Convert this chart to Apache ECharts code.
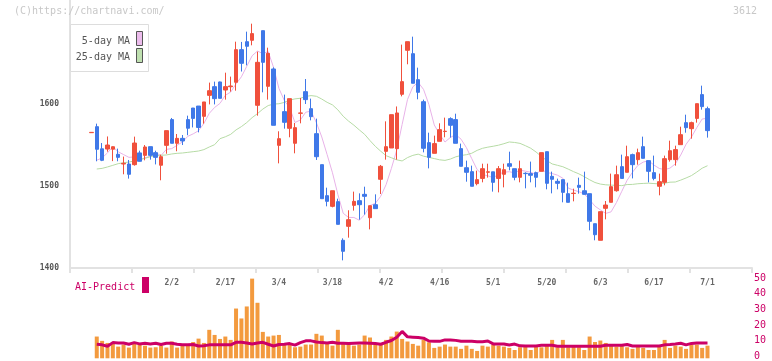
<!DOCTYPE html>
<html>
<head>
<meta charset="utf-8">
<script src="https://cdn.jsdelivr.net/npm/echarts@6/dist/echarts.min.js"></script>
<style>
html, body { margin: 0; padding: 0; background: #fff; }
#main { width: 772px; height: 361px; }
</style>
</head>
<body>
<div id="main"></div>
<script>
// 日足 (i=0..115)  O / H / L / C
var opens = [1564.6,1571.9,1545,1544.7,1544.5,1538.3,1526.5,1526.5,1525.7,1540,
    1537,1547.6,1540.3,1525,1549.2,1580.5,1551.7,1557.7,1580.5,1594.6,
    1597,1584.5,1610,1620.6,1626.3,1616.5,1620.5,1625.9,1665.6,1675.3,
    1677,1597.9,1688.7,1621,1642.1,1549.2,1590.2,1569.9,1551.7,1588.2,
    1614.5,1593.8,1563.4,1525.7,1488,1475,1480.7,1433.7,1450.7,1476.2,
    1481.9,1489.6,1461.2,1477,1507.9,1541.9,1546,1545.2,1611.3,1664.8,
    1660.7,1629.1,1602.3,1552.5,1539.5,1554.1,1566,1581.7,1580.5,1545.2,
    1522,1517.2,1502.6,1509,1516.5,1517,1509,1514,1526.9,1520.8,
    1510.3,1515.2,1514.8,1516,1517.6,1541.5,1511.5,1505.4,1507.5,1490.4,
    1490.6,1500.6,1494,1490.4,1453.9,1433.7,1472.6,1479.9,1494,1523.3,
    1516.4,1537.9,1531.8,1547.6,1530.6,1516,1499.4,1504.2,1531.8,1531.8,
    1550,1576.8,1569.5,1582,1610.9,1593.8];
var highs = [1565,1575.6,1552,1560,1548,1545.2,1535.5,1531.4,1559.8,1542.7,
    1549.6,1547.6,1542.7,1537.9,1567.1,1582.5,1563,1561.8,1585.3,1594.6,
    1597,1602,1625.5,1626.7,1626.7,1637.6,1632.8,1675.3,1675,1687.5,
    1697.2,1663.2,1688.7,1668,1644.1,1566.3,1610.9,1606,1576.4,1606.8,
    1629.9,1606,1581.7,1525.7,1497.7,1494,1484.3,1436.1,1470.2,1492.9,
    1490.8,1498.9,1475.8,1489.6,1525.3,1578.4,1586.5,1596.5,1671.7,1675.3,
    1681.4,1643.7,1604.8,1564.6,1561,1576,1582.9,1583.3,1587.7,1551.3,
    1530.6,1524.5,1518.4,1526.9,1526.9,1517,1524,1526.9,1541.5,1520.8,
    1530.6,1516.4,1529.4,1517.2,1540.3,1541.5,1517.2,1508.7,1507.5,1503.8,
    1496.5,1509.9,1517.2,1490.4,1453.9,1468.5,1481.5,1514.8,1524.5,1537.9,
    1548.8,1539.1,1545.2,1559.8,1530.6,1536.7,1514.8,1536.7,1554.9,1548.8,
    1571.9,1586.5,1578,1599.9,1621.8,1596.3];
var lows = [1564.6,1529.8,1530,1541.5,1530,1529.8,1514,1508.7,1524.5,1529.5,
    1531,1531.8,1526,1506.7,1539,1551.7,1542,1549.6,1561.5,1571,
    1565,1575.6,1599,1599,1606.4,1604.8,1614.5,1615.7,1639,1646.5,
    1670.9,1585.3,1613.7,1604.8,1573.6,1527.3,1569.5,1559,1539.5,1576,
    1599.5,1579.6,1531.4,1484.3,1475,1473.8,1453.1,1409.3,1436.9,1469.8,
    1458.8,1464.9,1447,1472.2,1490,1531.8,1546,1531.8,1608.8,1647.8,
    1624.7,1605.2,1540.7,1521.2,1539.5,1554.1,1559,1558.6,1551.7,1523.7,
    1505,1499.4,1500.6,1504.2,1509.9,1492.9,1492,1498.1,1518.8,1506.7,
    1504.2,1496.9,1504.2,1498.1,1517.6,1495.7,1490.8,1495.7,1479.9,1479.9,
    1481.1,1490.4,1489.6,1445.8,1433.7,1433.7,1459.2,1479.9,1492.9,1509,
    1516.4,1509,1525.7,1533.4,1504.2,1506.7,1488.4,1500.6,1529.4,1524.5,
    1550,1564.6,1557.3,1576.8,1592.6,1558.6];
var closes = [1565,1544.4,1531,1549.6,1547.5,1534.6,1527.3,1514,1552,1529.8,
    1547.2,1537,1534.6,1535.4,1567.1,1551.7,1557.7,1554.5,1570,1582,
    1571,1602,1615.7,1606,1606.4,1620.6,1621.4,1665.6,1649,1669.7,
    1685.1,1650.2,1650.2,1661.1,1573.6,1557.3,1577.2,1606,1570.7,1588.6,
    1604.8,1584.1,1535.4,1484.3,1481.1,1494,1453.1,1420.3,1458.8,1481.1,
    1477,1487.2,1475.8,1472.2,1523.7,1547.6,1586.5,1588.6,1626.7,1675.3,
    1624.7,1613.7,1545.6,1534.6,1551.3,1568.3,1566.4,1573.6,1551.7,1523.7,
    1516.4,1499.4,1507.5,1520.8,1517,1504.2,1520.8,1519.6,1523.7,1510.3,
    1520.8,1514.8,1512.8,1510.3,1540.3,1503,1507.9,1503,1492,1479.9,
    1491,1498.1,1489.6,1456.8,1440.5,1468.5,1476.6,1498.9,1513.5,1509,
    1535.4,1525.7,1540.3,1533.4,1517.6,1509,1505,1533,1542.7,1544,
    1562.2,1570.7,1576.8,1599.9,1596.3,1567.1];

// 移動平均の先頭 (期間前のデータが無い部分は図から読み取り)
var ma5Head = [null,1531,1534,1540];
var ma25Head = [null,1520.4,1521.2,1522.9,1524.9,1526.9,1528.1,1528.9,1530.2,1531.8,
    1533.4,1535.4,1536.7,1537.1,1537.5,1538.7,1539.5,1539.9,1540.7,1541.5,
    1542.3,1544,1547.2,1550];

// 出来高
var volumes = [null,13.6,10.9,9.6,9.0,7.3,8.6,6.7,9.0,8.6,
    7.9,6.7,6.9,7.9,6.7,10.5,6.7,7.9,8.8,10.2,
    12.3,9.6,17.8,14.6,12.1,13.6,11.5,31.1,24.9,32.4,
    49.8,34.7,16.5,13.6,14.2,14.6,8.6,9.0,6.9,7.3,
    8.6,8.6,15.3,14.2,9.0,7.9,17.8,10.0,9.0,7.9,
    8.6,14.2,13.0,8.6,8.6,11.5,13.6,16.7,12.1,10.5,
    9.0,7.9,11.5,10.0,6.5,7.3,8.6,7.3,7.3,5.9,
    7.9,5.9,4.6,7.9,7.3,8.6,7.9,7.3,6.5,5.2,
    6.9,7.3,5.2,7.3,6.9,7.9,11.5,6.9,11.5,6.9,
    7.3,6.9,5.2,13.6,10.2,11.1,9.6,7.9,7.3,7.9,
    6.9,5.9,7.3,6.5,5.2,5.2,7.3,11.5,6.5,7.9,
    7.3,5.9,8.4,8.6,6.5,7.9];
// AI-Predict
var aiPredict = [null,8.8,8.4,7.5,9.8,9.6,9.6,8.8,9.8,9.0,
    9.4,9.0,9.4,8.6,9.4,9.4,8.8,8.4,8.4,8.6,
    7.7,7.9,8.4,8.4,8.4,8.4,8.4,10.0,10.0,9.6,
    9.0,9.6,10.0,8.8,7.7,8.6,8.8,9.2,8.2,9.8,
    10.9,10.9,10.2,9.8,9.6,10.0,9.4,9.4,9.2,9.4,
    9.6,9.6,9.4,9.2,8.8,10.0,11.1,13.2,16.8,13.4,
    13.2,13.0,12.6,10.8,10.6,10.6,11.5,11.5,11.2,10.6,
    10.6,10.6,10.4,10.4,10.8,9.0,8.9,8.9,8.3,8.9,
    7.8,7.7,7.7,7.7,8.1,8.1,8.1,7.5,7.5,7.5,
    7.5,7.5,7.5,7.5,7.5,7.5,8.1,8.1,8.1,8.1,
    8.6,7.7,7.7,7.7,7.7,7.7,7.7,8.4,8.6,8.9,
    9.4,8.4,9.3,9.6,9.6,9.6];

// 日付ラベル
var labelIdx = [15,25,35,45,55,65,75,85,95,105,115];
var dateLabels = ['2/2','2/17','3/4','3/18','4/2','4/16','5/1','5/20','6/3','6/17','7/1'];

var days = closes.map(function (c, i) { return String(i); });
var kdata = opens.map(function (o, i) { return [o, closes[i], lows[i], highs[i]]; });

function calcMA(n, head) {
    var out = [];
    for (var i = 0; i < closes.length; i++) {
        if (i < head.length) { out.push(head[i]); continue; }
        var s = 0;
        for (var j = 0; j < n; j++) s += closes[i - j];
        out.push(+(s / n).toFixed(1));
    }
    return out;
}
var ma5 = calcMA(5, ma5Head);
var ma25 = calcMA(25, ma25Head);

var MONO = '"DejaVu Sans Mono", "Liberation Mono", monospace';
var RED = '#f0503c', BLUE = '#3f78e8', AI = '#cc0066';

var dom = document.getElementById('main');
var myChart = echarts.init(dom);

var option = {
    animation: false,
    grid: [
        {left: 70, right: 20, top: 0, height: 268},         // 枠
        {left: 91.4, right: 64.5, top: 0, height: 268},     // ローソク足
        {left: 91.4, right: 64.5, top: 278.3, height: 80},  // 出来高
        {left: 70, right: 20, top: 278.3, height: 80}       // 右目盛
    ],
    xAxis: [
        {
            gridIndex: 0, type: 'value', min: 0, max: 11, interval: 1,
            axisLine: {lineStyle: {color: '#e2e2e2', width: 2}},
            axisTick: {length: 5, lineStyle: {color: '#e2e2e2', width: 2}},
            axisLabel: {show: false},
            splitLine: {show: false}
        },
        {
            gridIndex: 1, type: 'category', data: days, boundaryGap: false,
            axisLine: {show: false}, axisTick: {show: false},
            axisLabel: {
                margin: 11,
                color: '#666', fontSize: 8, fontWeight: 'bold', fontFamily: MONO,
                hideOverlap: false,
                interval: function (index) { return labelIdx.indexOf(index) >= 0; },
                formatter: function (value, index) {
                    var k = labelIdx.indexOf(index);
                    return k >= 0 ? dateLabels[k] : '';
                }
            }
        },
        {gridIndex: 2, type: 'category', data: days, boundaryGap: false, show: false},
        {gridIndex: 3, type: 'value', show: false}
    ],
    yAxis: [
        {
            gridIndex: 0, type: 'value', min: 1400, max: 1726, interval: 100,
            axisLine: {show: true, lineStyle: {color: '#e2e2e2', width: 2}},
            axisTick: {show: false},
            axisLabel: {
                margin: 11, color: '#555', fontSize: 8, fontWeight: 'bold', fontFamily: MONO,
                formatter: function (v) { return v <= 1600 ? v : ''; }
            },
            splitLine: {show: false}
        },
        {gridIndex: 1, type: 'value', min: 1400, max: 1726, show: false},
        {gridIndex: 2, type: 'value', min: 0, max: 50, show: false},
        {
            gridIndex: 3, type: 'value', min: 0, max: 50, interval: 10, position: 'right',
            axisLine: {show: false}, axisTick: {show: false},
            axisLabel: {margin: 2, color: AI, fontSize: 10, fontFamily: MONO},
            splitLine: {show: false}
        }
    ],
    graphic: [
        {type: 'text', left: 14, top: 6, z: 100,
            style: {text: '(C)https://chartnavi.com/', fill: '#c8c8c8', font: '10px ' + MONO}},
        {type: 'text', right: 15, top: 6, z: 100,
            style: {text: '3612', fill: '#c8c8c8', font: '10px ' + MONO}},
        // 凡例
        {type: 'rect', z: 100, shape: {x: 70.5, y: 24.5, width: 78, height: 47},
            style: {fill: '#fff', stroke: '#dddddd', lineWidth: 1}},
        {type: 'text', z: 101, x: 130, y: 41,
            style: {text: '5-day MA', fill: '#555', font: '10px ' + MONO, textAlign: 'right', textVerticalAlign: 'middle'}},
        {type: 'text', z: 101, x: 130, y: 57,
            style: {text: '25-day MA', fill: '#555', font: '10px ' + MONO, textAlign: 'right', textVerticalAlign: 'middle'}},
        {type: 'rect', z: 101, shape: {x: 136.5, y: 31.5, width: 6, height: 14},
            style: {fill: '#ecbcec', stroke: '#555', lineWidth: 1}},
        {type: 'rect', z: 101, shape: {x: 136.5, y: 48.5, width: 6, height: 14},
            style: {fill: '#bfe0b0', stroke: '#555', lineWidth: 1}},
        // AI-Predict
        {type: 'text', z: 100, x: 75, y: 287,
            style: {text: 'AI-Predict', fill: AI, font: '10px ' + MONO, textVerticalAlign: 'middle'}},
        {type: 'rect', z: 100, shape: {x: 142, y: 277, width: 7, height: 16},
            style: {fill: AI}}
    ],
    series: [
        {
            name: '5-day MA', type: 'line', xAxisIndex: 1, yAxisIndex: 1, data: ma5,
            symbol: 'none', z: 1, lineStyle: {color: '#e8b2e8', width: 1}
        },
        {
            name: '25-day MA', type: 'line', xAxisIndex: 1, yAxisIndex: 1, data: ma25,
            symbol: 'none', z: 1, lineStyle: {color: '#b6dba5', width: 1}
        },
        {
            type: 'candlestick', xAxisIndex: 1, yAxisIndex: 1, data: kdata,
            barWidth: 4, clip: false,
            itemStyle: {color: RED, color0: BLUE, borderColor: RED, borderColor0: BLUE, borderWidth: 1}
        },
        {
            type: 'bar', xAxisIndex: 2, yAxisIndex: 2, data: volumes,
            barWidth: 4, clip: false, itemStyle: {color: '#f39a3e'}
        },
        {
            name: 'AI-Predict', type: 'line', xAxisIndex: 2, yAxisIndex: 2, data: aiPredict,
            symbol: 'none', lineStyle: {color: AI, width: 3}
        }
    ]
};

if (option && typeof option === "object") {
    myChart.setOption(option, true);
}
</script>
</body>
</html>
